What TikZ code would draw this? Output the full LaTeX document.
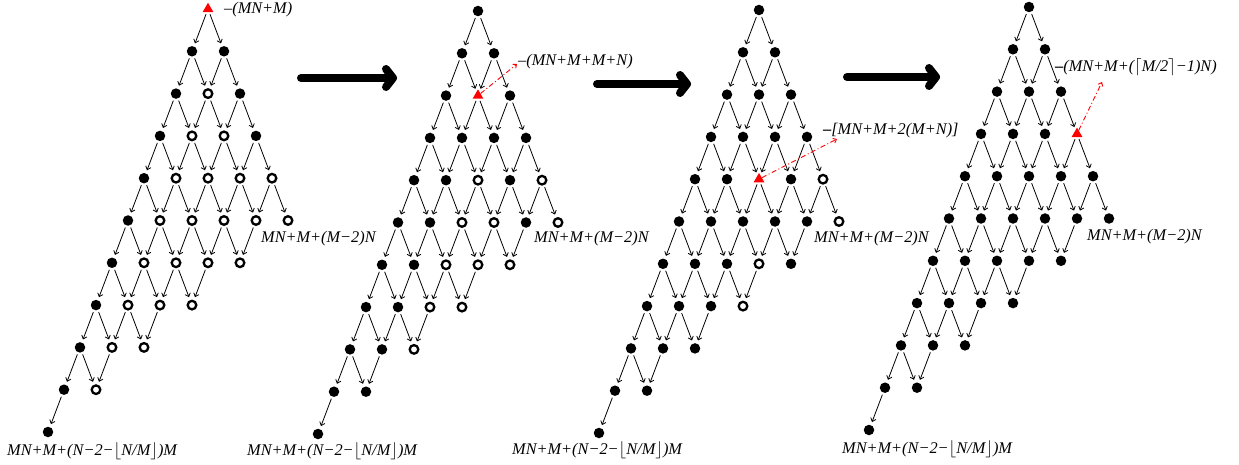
\documentclass[tikz,border=0pt]{standalone}
\usepackage{fontspec}
\setmainfont{Liberation Serif}
\usetikzlibrary{arrows.meta,shapes.geometric}
\tikzset{
  fdot/.style={circle, fill=black, draw=none, minimum size=10.5pt, inner sep=0pt},
  opennode/.style={fill=white, draw=black, line width=2.3pt, minimum size=8.6pt},
  tri/.style={shape=regular polygon, regular polygon sides=3, fill=red, draw=none, minimum size=12.5pt},
  conn/.style={line width=0.8pt, -{Straight Barb[length=3.2pt,width=5.5pt]}, shorten <=2pt, shorten >=3pt},
  redarrow/.style={red, line width=0.9pt, dash pattern=on 5pt off 2.5pt on 1pt off 2.5pt, -{Straight Barb[length=3pt,width=5pt]}},
  bigarrow/.style={line width=8pt, line cap=round, line join=round},
  lbl/.style={anchor=west, inner sep=0pt, font=\itshape\fontsize{16.3}{18}\selectfont},
  % panel 1
  o1-0-0/.style=tri,
  o1-2-1/.style=opennode,
  o1-3-1/.style=opennode, o1-3-2/.style=opennode,
  o1-4-1/.style=opennode, o1-4-2/.style=opennode, o1-4-3/.style=opennode, o1-4-4/.style=opennode,
  o1-5-1/.style=opennode, o1-5-2/.style=opennode, o1-5-3/.style=opennode, o1-5-4/.style=opennode, o1-5-5/.style=opennode,
  o1-6-1/.style=opennode, o1-6-2/.style=opennode, o1-6-3/.style=opennode, o1-6-4/.style=opennode,
  o1-7-1/.style=opennode, o1-7-2/.style=opennode, o1-7-3/.style=opennode,
  o1-8-1/.style=opennode, o1-8-2/.style=opennode,
  o1-9-1/.style=opennode,
  % panel 2
  o2-2-1/.style=tri,
  o2-4-2/.style=opennode, o2-4-4/.style=opennode,
  o2-5-2/.style=opennode, o2-5-3/.style=opennode, o2-5-5/.style=opennode,
  o2-6-2/.style=opennode, o2-6-3/.style=opennode, o2-6-4/.style=opennode,
  o2-7-2/.style=opennode, o2-7-3/.style=opennode,
  o2-8-2/.style=opennode,
  % panel 3
  o3-4-2/.style=tri,
  o3-4-4/.style=opennode, o3-5-5/.style=opennode, o3-6-3/.style=opennode, o3-7-3/.style=opennode,
  % panel 4
  o4-3-3/.style=tri
}
\begin{document}
\begin{tikzpicture}[x=1pt,y=-1pt]
\fill[white] (0,0) rectangle (1239,465);
\useasboundingbox (0,0) rectangle (1239,465);

% nodes
\foreach \p/\ax/\ay in {1/208/9, 2/478/11, 3/759/10, 4/1029/7} {
  \foreach \r in {0,...,10} {
    \pgfmathtruncatemacro\kmax{min(\r,10-\r)}
    \foreach \k in {0,...,\kmax} {
      \node[fdot, o\p-\r-\k/.try] (n\p-\r-\k) at ({\ax+32*\k-16*\r}, {\ay+42.3*\r}) {};
    }
  }
}

% connectors
\foreach \p in {1,...,4} {
  \foreach \r in {0,...,9} {
    \pgfmathtruncatemacro\kmax{min(\r,10-\r)}
    \pgfmathtruncatemacro\nmax{min(\r+1,9-\r)}
    \pgfmathtruncatemacro\rn{\r+1}
    \foreach \k in {0,...,\kmax} {
      \pgfmathtruncatemacro\kn{\k+1}
      \ifnum\k>\nmax\else \draw[conn] (n\p-\r-\k) -- (n\p-\rn-\k); \fi
      \ifnum\kn>\nmax\else \draw[conn] (n\p-\r-\k) -- (n\p-\rn-\kn); \fi
    }
  }
}

% big arrows
\coordinate (a1s) at (301,78); \coordinate (a1e) at (393,78);
\coordinate (a1u) at (386,69); \coordinate (a1d) at (386,87);
\draw[bigarrow] (a1s) -- (a1e);
\draw[bigarrow] (a1u) -- (a1e) -- (a1d);
\coordinate (a2s) at (597,84); \coordinate (a2e) at (687,84);
\coordinate (a2u) at (680,75); \coordinate (a2d) at (680,93);
\draw[bigarrow] (a2s) -- (a2e);
\draw[bigarrow] (a2u) -- (a2e) -- (a2d);
\coordinate (a3s) at (847,77); \coordinate (a3e) at (936,77);
\coordinate (a3u) at (929,68); \coordinate (a3d) at (929,86);
\draw[bigarrow] (a3s) -- (a3e);
\draw[bigarrow] (a3u) -- (a3e) -- (a3d);

% red pointers
\coordinate (t2) at (517,64);
\draw[redarrow] (n2-2-1) -- (t2);
\coordinate (t3) at (837,139);
\draw[redarrow] (n3-4-2) -- (t3);
\coordinate (t4) at (1102,82);
\draw[redarrow] (n4-3-3) -- (t4);

% labels
\node[lbl] (l1a) at (224,10) {–(MN+M)};
\node[lbl] (l1b) at (261,239) {MN+M+(M−2)N};
\node[lbl] (l1c) at (7,451) {MN+M+(N−2−$\lfloor$N/M$\rfloor$)M};

\node[lbl] (l2a) at (518,62) {–(MN+M+M+N)};
\node[lbl] (l2b) at (534,239) {MN+M+(M−2)N};
\node[lbl] (l2c) at (247,451) {MN+M+(N−2−$\lfloor$N/M$\rfloor$)M};

\node[lbl] (l3a) at (823,131) {{\upshape\bfseries –}[MN+M+2(M+N)]};
\node[lbl] (l3b) at (814,239) {MN+M+(M−2)N};
\node[lbl] (l3c) at (512,450) {MN+M+(N−2−$\lfloor$N/M$\rfloor$)M};

\node[lbl] (l4a) at (1055,67) {{\upshape\bfseries –}(MN+M+($\lceil$M/2$\rceil$−1)N)};
\node[lbl] (l4b) at (1087,237) {MN+M+(M−2)N};
\node[lbl] (l4c) at (842,449) {MN+M+(N−2−$\lfloor$N/M$\rfloor$)M};
\end{tikzpicture}
\end{document}
